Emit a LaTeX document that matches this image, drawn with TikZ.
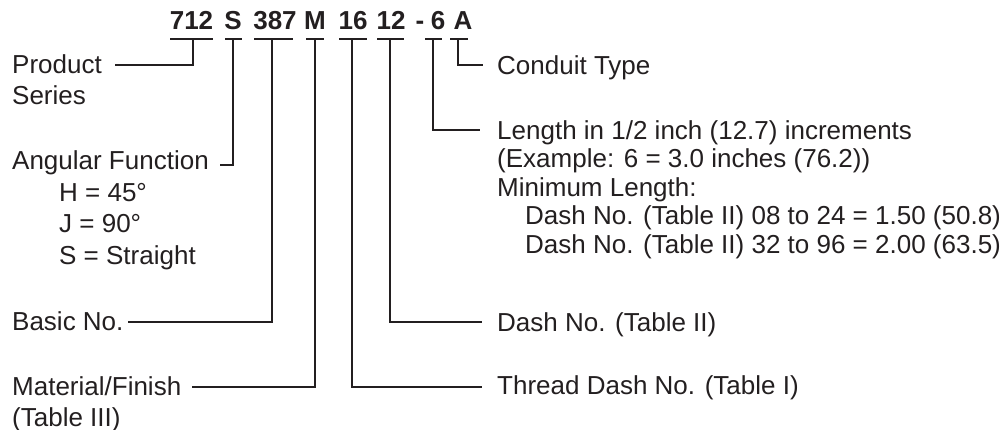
\documentclass[tikz,border=0pt]{standalone}
\usepackage{fontspec}
\setmainfont{Liberation Sans}
\definecolor{ink}{HTML}{231F20}
\tikzset{
  lab/.style={anchor=base west, inner sep=0pt, text=ink, font=\fontsize{26}{31}\selectfont},
  code/.style={anchor=base, inner sep=0pt, text=ink, font=\fontsize{26}{31}\selectfont\bfseries},
  lead/.style={draw=ink, line width=2pt, line cap=butt, line join=miter},
  bar/.style={draw=ink, line width=2.4pt}
}
\begin{document}
\begin{tikzpicture}[x=1pt,y=-1pt]
\useasboundingbox (0,0) rectangle (1006,430);
% code
\node[code] (c712) at (191.5,30) {712};
\node[code] (cS) at (233,30) {S};
\node[code] (c387) at (275,30) {387};
\node[code] (cM) at (315,30) {M};
\node[code] (c16) at (353,30) {16};
\node[code] (c12) at (391,30) {12};
\node[code] (cdash) at (420,30) {-};
\node[code] (c6) at (438,30) {6};
\node[code] (cA) at (463,30) {A};
% T junctions
\coordinate (t712) at (193,39);
\coordinate (tS) at (233,39);
\coordinate (t387) at (272,39);
\coordinate (tM) at (315,39);
\coordinate (t16) at (352,39);
\coordinate (t12) at (390,39);
\coordinate (t6) at (433,39);
\coordinate (tA) at (458,39);
\draw[bar] (170,39) -- (213,39);
\draw[bar] (225,39) -- (242,39);
\draw[bar] (254,39) -- (293,39);
\draw[bar] (306,39) -- (324,39);
\draw[bar] (339,39) -- (367,39);
\draw[bar] (377,39) -- (404,39);
\draw[bar] (425,39) -- (442,39);
\draw[bar] (450,39) -- (468,39);
% lead ends
\coordinate (eProd) at (115,65);
\coordinate (eAng) at (220,165);
\coordinate (eBasic) at (128,322);
\coordinate (eMat) at (192,387);
\coordinate (eThread) at (482,387);
\coordinate (eDash) at (482,322);
\coordinate (eLen) at (480,130);
\coordinate (eCond) at (483,65);
\draw[lead] (t712) |- (eProd);
\draw[lead] (tS) |- (eAng);
\draw[lead] (t387) |- (eBasic);
\draw[lead] (tM) |- (eMat);
\draw[lead] (t16) |- (eThread);
\draw[lead] (t12) |- (eDash);
\draw[lead] (t6) |- (eLen);
\draw[lead] (tA) |- (eCond);
% left labels
\node[lab] (prod1) at (12,74) {Product};
\node[lab] (prod2) at (12,105) {Series};
\node[lab] (ang) at (12,170) {Angular Function};
\node[lab] (angH) at (59,202) {H = 45°};
\node[lab] (angJ) at (59,233) {J = 90°};
\node[lab] (angS) at (59,265) {S = Straight};
\node[lab] (basic) at (12,330) {Basic No.};
\node[lab] (mat1) at (12,395) {Material/Finish};
\node[lab] (mat2) at (12,426) {(Table III)};
% right labels
\node[lab] (cond) at (497,75) {Conduit Type};
\node[lab] (len1) at (497,140) {Length in 1/2 inch (12.7) increments};
\node[lab] (len2) at (497,168) {(Example: 6 = 3.0 inches (76.2))};
\node[lab] (len3) at (497,197) {Minimum Length:};
\node[lab] (len4) at (525,225) {Dash No. (Table II) 08 to 24 = 1.50 (50.8)};
\node[lab] (len5) at (525,254) {Dash No. (Table II) 32 to 96 = 2.00 (63.5)};
\node[lab] (dash) at (497,331) {Dash No. (Table II)};
\node[lab] (thread) at (497,394) {Thread Dash No. (Table I)};
\end{tikzpicture}
\end{document}
